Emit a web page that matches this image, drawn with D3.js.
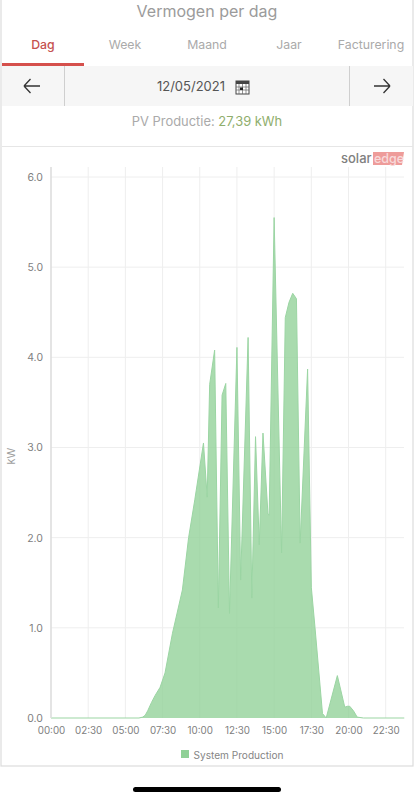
<!DOCTYPE html>
<html><head><meta charset="utf-8">
<script src="https://cdn.jsdelivr.net/npm/d3@7"></script>
<style>
html,body{margin:0;padding:0;background:#fff;overflow:hidden}
svg{display:block;font-family:Inter,"Liberation Sans",sans-serif}
.axis path,.axis line{display:none}
</style></head><body>
<svg id="c" width="414" height="800"></svg>
<script>
const title = "Vermogen per dag";
const tabs = ["Dag","Week","Maand","Jaar","Facturering"];
const dateLabel = "12/05/2021";
const pvLabel = "PV Productie: ";
const pvValue = "27,39 kWh";
const seriesName = "System Production";
const yTicks = [0,1,2,3,4,5,6];
const xTickLabels = ["00:00","02:30","05:00","07:30","10:00","12:30","15:00","17:30","20:00","22:30"];
const times = ["00:00","05:55","06:10","06:20","06:30","06:45","07:00","07:20","07:40","08:10","08:50","09:15","09:40","10:15","10:30","10:40","11:00","11:15","11:30","11:45","12:00","12:30","12:45","13:15","13:30","13:45","14:00","14:15","14:35","14:40","15:00","15:30","15:45","16:00","16:15","16:30","16:45","17:15","17:30","17:45","18:15","18:30","19:15","19:45","19:55","20:05","20:20","20:35","21:00","23:45"];
const power = [0,0,0.01,0.03,0.08,0.17,0.25,0.34,0.5,0.94,1.42,2.0,2.42,3.05,2.45,3.7,4.08,1.22,3.58,3.71,1.16,4.11,1.53,4.22,1.33,3.12,1.92,3.16,2.27,2.25,5.55,1.83,4.44,4.61,4.71,4.65,1.94,3.87,1.45,1.0,0.05,0,0.47,0.12,0.13,0.13,0.08,0.01,0,0];

const toMin = s => { const [h,m] = s.split(":").map(Number); return h*60+m; };
const svg = d3.select("#c");

// frame
svg.append("rect").attr("x",1).attr("y",-2).attr("width",412).attr("height",768).attr("fill","none").attr("stroke","#dcdcdc").attr("stroke-width",1.2);

// header
svg.append("text").attr("x",207).attr("y",17).attr("text-anchor","middle").attr("font-size",16).attr("fill","#9b9b9b").text(title);
const tabX = d3.scalePoint().domain(tabs).range([43,371]);
svg.selectAll("text.tab").data(tabs).join("text").attr("class","tab")
  .attr("x",d=>tabX(d)).attr("y",49).attr("text-anchor","middle").attr("font-size",12.3)
  .attr("font-weight",(d,i)=>i?400:500)
  .attr("fill",(d,i)=>i?"#aaaaaa":"#c5524f").text(d=>d);
svg.append("rect").attr("x",2).attr("y",63).attr("width",82).attr("height",3).attr("fill","#d5504c");

// date bar
svg.append("rect").attr("x",2).attr("y",66).attr("width",411).attr("height",40).attr("fill","#f6f6f6");
[64.5,349.5].forEach(x=>svg.append("line").attr("x1",x).attr("x2",x).attr("y1",66).attr("y2",106).attr("stroke","#cfcfcf"));
const arrow = (x,dir)=>svg.append("path")
  .attr("d",`M${x-8*dir} 86H${x+8*dir}M${x-8*dir} 86l${6.5*dir} -7M${x-8*dir} 86l${6.5*dir} 7`)
  .attr("fill","none").attr("stroke","#333").attr("stroke-width",1.3);
arrow(32,1); arrow(382,-1);
svg.append("text").attr("x",191).attr("y",91).attr("text-anchor","middle").attr("font-size",13).attr("fill","#555").text(dateLabel);
const cal = svg.append("g").attr("transform","translate(236,80)");
cal.append("rect").attr("width",13).attr("height",13).attr("y",1).attr("fill","#fff").attr("stroke","#444").attr("stroke-width",1);
cal.append("rect").attr("width",13).attr("height",3).attr("y",1).attr("fill","#444");
[3,6.5,10].forEach(x=>cal.append("line").attr("x1",x).attr("x2",x).attr("y1",4).attr("y2",14).attr("stroke","#666").attr("stroke-width",.7));
[7,10].forEach(y=>cal.append("line").attr("x1",0).attr("x2",13).attr("y1",y).attr("y2",y).attr("stroke","#666").attr("stroke-width",.7));
cal.append("rect").attr("x",4).attr("y",7.5).attr("width",3).attr("height",2.5).attr("fill","#222");

// total
const pv = svg.append("text").attr("x",207).attr("y",126).attr("text-anchor","middle").attr("font-size",12.9);
pv.append("tspan").attr("fill","#aaaaaa").text(pvLabel);
pv.append("tspan").attr("fill","#8fae6d").text(pvValue);
svg.append("line").attr("x1",2).attr("x2",413).attr("y1",146.5).attr("y2",146.5).attr("stroke","#e6e6e6");

// logo
svg.append("text").attr("x",341).attr("y",163).attr("font-size",13).attr("font-weight",500).attr("fill","#808080").text("solar");
svg.append("path").attr("d","M373 152H404L402 165H373Z").attr("fill","#ee9c9a");
svg.append("text").attr("x",374).attr("y",163).attr("font-size",12.5).attr("font-weight",500).attr("fill","#f8dada").text("edge");

// chart
const x = d3.scaleLinear().domain([0,1440]).range([51,408]);
const y = d3.scaleLinear().domain([0,6]).range([718,177]);
const tickMins = xTickLabels.map(toMin);

svg.append("g").selectAll("line").data(yTicks.slice(1)).join("line")
  .attr("x1",51).attr("x2",404).attr("y1",d=>y(d)).attr("y2",d=>y(d)).attr("stroke","#eeeeee");
svg.append("g").selectAll("line").data(tickMins.slice(1)).join("line")
  .attr("x1",d=>x(d)).attr("x2",d=>x(d)).attr("y1",167).attr("y2",718).attr("stroke","#eeeeee");

const pts = times.map((t,i)=>[toMin(t),power[i]]);
const area = d3.area().x(d=>x(d[0])).y0(y(0)).y1(d=>y(d[1]));
const line = d3.line().x(d=>x(d[0])).y(d=>y(d[1]));
svg.append("path").datum(pts).attr("d",area).attr("fill","#8fd096").attr("fill-opacity",0.77);
svg.append("path").datum(pts).attr("d",line).attr("fill","none").attr("stroke","#9bd5a3").attr("stroke-width",1);

svg.append("line").attr("x1",51).attr("x2",51).attr("y1",167).attr("y2",718).attr("stroke","#dedede").attr("stroke-width",1.6);

const yAxis = d3.axisLeft(y).tickValues(yTicks).tickFormat(d3.format(".1f")).tickSize(0).tickPadding(8);
const gy = svg.append("g").attr("class","axis").attr("transform","translate(51,0)").call(yAxis);
gy.selectAll("text").attr("font-size",10.5).attr("fill","#808080").attr("font-family",'Inter,"Liberation Sans",sans-serif');
const xAxis = d3.axisBottom(x).tickValues(tickMins).tickFormat((d,i)=>xTickLabels[i]).tickSize(0).tickPadding(9);
const gx = svg.append("g").attr("class","axis").attr("transform","translate(0,718)").call(xAxis);
gx.selectAll("text").attr("font-size",9.8).attr("fill","#808080").attr("font-family",'Inter,"Liberation Sans",sans-serif');

svg.append("text").attr("transform","translate(15,456) rotate(-90)").attr("text-anchor","middle").attr("font-size",11).attr("fill","#a0a0a0").text("kW");

// legend
svg.append("rect").attr("x",181).attr("y",750).attr("width",8).attr("height",8).attr("fill","#8fd096");
svg.append("text").attr("x",193.5).attr("y",758.5).attr("font-size",10.1).attr("fill","#858585").text(seriesName);

// home indicator
svg.append("rect").attr("x",133).attr("y",787).attr("width",148).attr("height",5).attr("rx",2.5).attr("fill","#000");
</script></body></html>
